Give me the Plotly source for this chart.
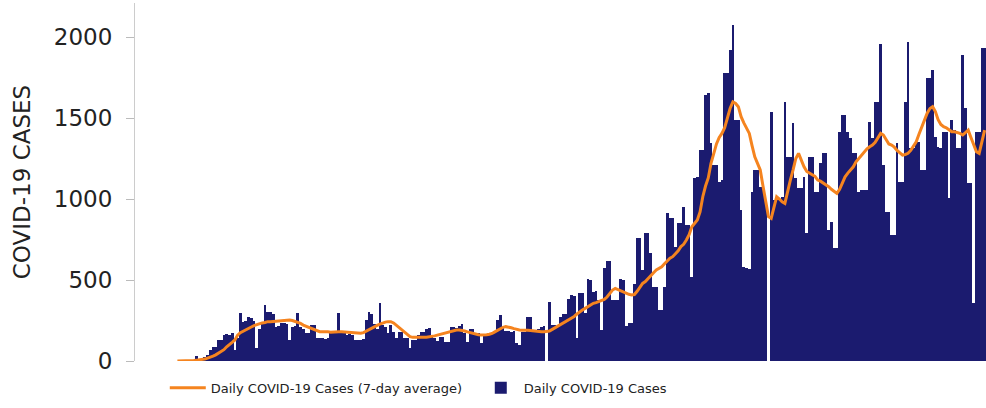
import plotly.graph_objects as go

# Day index (0 = first day shown)
days = list(range(296))

daily_cases = [
    0, 0, 3, 0, 5, 2, 0, 28, 6, 12,
    25, 40, 70, 85, 85, 130, 128, 160, 165, 160,
    170, 70, 140, 295, 240, 245, 270, 265, 250, 80,
    200, 240, 345, 300, 300, 290, 210, 215, 235, 235,
    230, 130, 210, 215, 295, 210, 200, 170, 175, 220,
    220, 140, 140, 140, 135, 145, 170, 175, 170, 295,
    175, 170, 160, 165, 160, 130, 130, 130, 135, 255,
    300, 290, 230, 200, 356, 220, 210, 170, 220, 180,
    140, 180, 180, 140, 140, 78, 130, 130, 160, 180,
    181, 200, 205, 150, 140, 125, 150, 150, 120, 120,
    210, 210, 205, 215, 228, 171, 119, 200, 200, 171,
    171, 113, 160, 160, 165, 171, 175, 253, 284, 212,
    187, 185, 180, 185, 113, 100, 181, 181, 274, 270,
    181, 185, 200, 210, 216, 0, 366, 222, 220, 216,
    274, 290, 290, 380, 407, 400, 140, 421, 421, 294,
    504, 500, 428, 430, 376, 191, 572, 619, 615, 376,
    376, 376, 504, 500, 216, 232, 232, 475, 761, 761,
    562, 788, 788, 664, 459, 459, 315, 315, 459, 915,
    880, 880, 705, 850, 850, 948, 839, 839, 520, 1127,
    1137, 1302, 1302, 1641, 1656, 1343, 1210, 1210, 1107, 1117,
    1775, 1780, 1919, 2073, 1487, 1487, 932, 582, 572, 566,
    1045, 1179, 1179, 1076, 1076, 994, 0, 1539, 994, 994,
    994, 1014, 1600, 1261, 1261, 1467, 1127, 1066, 1066, 1137,
    788, 1261, 1261, 1045, 1045, 1220, 1286, 1282, 808, 860,
    695, 695, 1415, 1518, 1518, 1415, 1374, 1282, 1282, 1045,
    1055, 1055, 1055, 1477, 1374, 1600, 1600, 1960, 1209, 921,
    921, 777, 777, 1347, 1107, 1107, 1600, 1970, 1312, 1312,
    1353, 1353, 1178, 1178, 1744, 1744, 1796, 1384, 1323, 1312,
    1415, 1415, 1004, 1487, 1425, 1312, 1312, 1888, 1559, 1096,
    1096, 356, 1415, 1415, 1930, 1930,
]

avg_cases = [
    0, 0, 0, 1, 1, 2, 3, 5, 7, 9, 12, 18,
    22, 30, 38, 47, 58, 70, 88, 100,
    115, 130, 160, 175, 185, 195, 200, 210, 218, 225,
    232, 235, 238, 243, 243, 245, 247, 248, 250, 250,
    252, 253, 250, 245, 240, 232, 222, 215, 208, 200,
    192, 185, 181, 180, 182, 180, 178, 180, 181, 181,
    181, 180, 178, 176, 175, 172, 171, 171, 175, 185,
    195, 205, 212, 220, 228, 235, 240, 243, 243, 235,
    220, 205, 190, 181, 165, 150, 146, 145, 146, 146,
    146, 146, 148, 150, 155, 160, 165, 170, 175, 180,
    185, 188, 191, 191, 190, 185, 180, 175, 170, 165,
    162, 160, 160, 162, 165, 170, 180, 190, 200, 208,
    212, 210, 205, 200, 195, 191, 190, 191, 190, 188,
    185, 183, 181, 180, 181, 182, 185, 195, 205, 215,
    222, 230, 240, 252, 263, 275, 290, 304, 315, 325,
    335, 345, 356, 360, 366, 370, 380, 395, 420, 438,
    448, 440, 435, 428, 420, 412, 407, 410, 430, 455,
    479, 490, 510, 531, 545, 562, 572, 582, 600, 620,
    634, 644, 660, 680, 706, 720, 747, 780, 829, 850,
    870, 920, 1014, 1080, 1130, 1220, 1280, 1340, 1380, 1405,
    1440, 1500, 1560, 1600, 1590, 1570, 1508, 1470, 1440, 1405,
    1330, 1260, 1220, 1179, 1080, 980, 891, 880, 950, 1014,
    1000, 983, 973, 1050, 1117, 1180, 1250, 1282, 1240, 1199,
    1170, 1158, 1150, 1140, 1117, 1110, 1100, 1090, 1076, 1060,
    1050, 1035, 1060, 1100, 1137, 1160, 1180, 1199, 1230, 1250,
    1270, 1292, 1310, 1323, 1333, 1350, 1380, 1405, 1395, 1370,
    1340, 1333, 1320, 1300, 1285, 1271, 1275, 1282, 1300, 1330,
    1353, 1400, 1446, 1490, 1530, 1559, 1570, 1540, 1490, 1460,
    1446, 1440, 1430, 1415, 1415, 1410, 1405, 1395, 1410, 1425,
    1380, 1330, 1292, 1282, 1350, 1425,
]

y_ticks = [0, 500, 1000, 1500, 2000]

FONT = "DejaVu Sans"
NAVY = "#1b1b6f"
ORANGE = "#f5841f"

fig = go.Figure()
fig.add_trace(go.Bar(
    x=days, y=daily_cases, name="Daily COVID-19 Cases",
    marker=dict(color=NAVY, line=dict(width=0)),
    legendrank=2,
))
fig.add_trace(go.Scatter(
    x=days, y=avg_cases, mode="lines",
    name="Daily COVID-19 Cases (7-day average)",
    line=dict(color=ORANGE, width=3),
    legendrank=1,
))

fig.update_layout(
    width=986, height=408,
    margin=dict(l=135, r=0, t=3, b=47),
    paper_bgcolor="white", plot_bgcolor="white",
    bargap=0,
    font=dict(family=FONT, color="#222"),
    showlegend=True,
    legend=dict(
        orientation="h", x=0.035, xanchor="left", y=-0.075, yanchor="middle",
        font=dict(size=13, family=FONT, color="#222"),
        itemwidth=36, tracegroupgap=0,
        entrywidth=262, entrywidthmode="pixels",
        bgcolor="rgba(0,0,0,0)",
    ),
    xaxis=dict(
        range=[-15.5, 295.5], showticklabels=False, ticks="",
        showgrid=False, zeroline=False, showline=False,
    ),
    yaxis=dict(
        range=[0, 2210], tickvals=y_ticks,
        ticks="outside", ticklen=8, tickcolor="#bbbbbb",
        showline=True, linecolor="#cccccc", linewidth=1,
        showgrid=False, zeroline=False, automargin=False,
        tickfont=dict(size=23, family=FONT, color="#222"),
        ticklabelstandoff=9,
        title=dict(text="COVID-19 CASES", font=dict(size=23, family=FONT, color="#222"), standoff=16),
    ),
)

fig.write_html(
    "out.html",
    config={"displayModeBar": False},
    post_script="document.body.style.margin='0';document.body.style.overflow='hidden';",
)
